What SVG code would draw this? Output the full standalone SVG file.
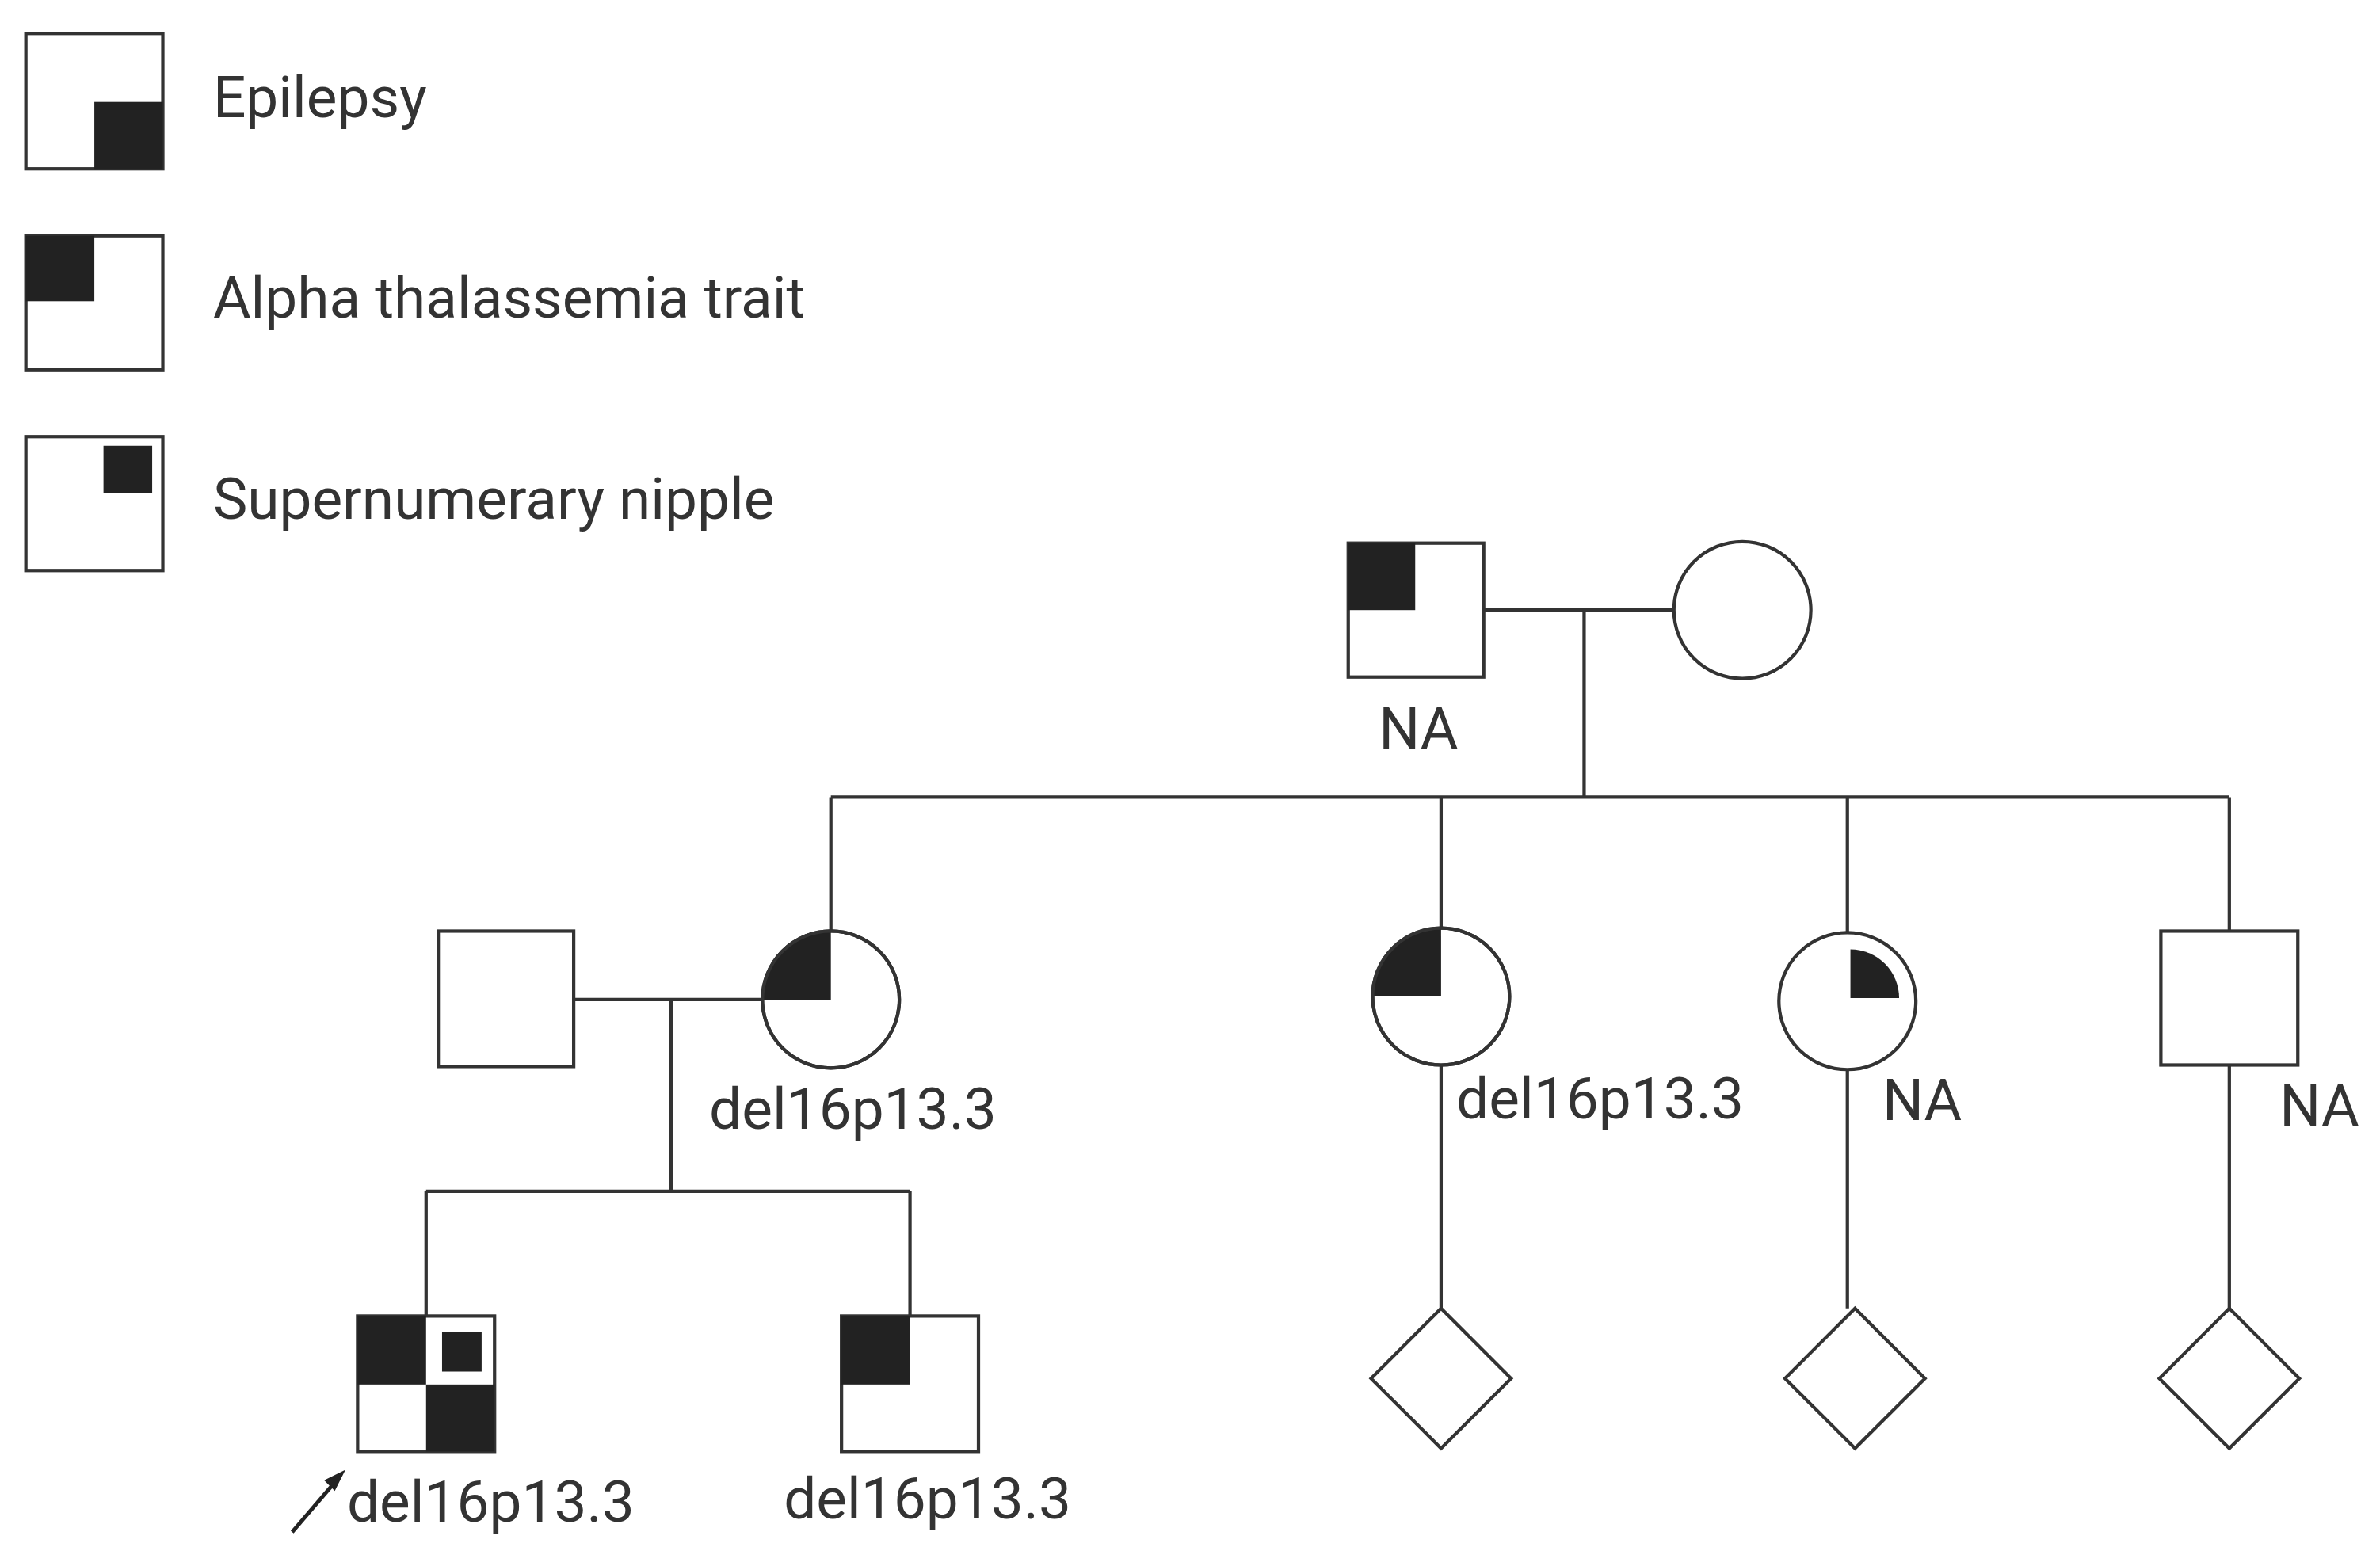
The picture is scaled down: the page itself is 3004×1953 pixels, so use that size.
<svg xmlns="http://www.w3.org/2000/svg" width="3004" height="1953" viewBox="0 0 3004 1953">
<style>
.s{fill:#fff;stroke:#333;stroke-width:2.2}
.f{fill:#222}
.l{fill:none;stroke:#333;stroke-width:2.2}
text{font-family:Roboto,"Liberation Sans",sans-serif;font-size:38px;fill:#333}
</style>
<rect width="3004" height="1953" fill="#fff"/>
<g transform="scale(1.9207)">
<g id="legend">
<rect class="s" x="17" y="22" width="90" height="89"/><rect class="f" x="62" y="67" width="45" height="44"/>
<text x="140" y="77">Epilepsy</text>
<rect class="s" x="17" y="155" width="90" height="88"/><rect class="f" x="17" y="155" width="45" height="43"/>
<text x="140" y="209">Alpha thalassemia trait</text>
<rect class="s" x="17" y="287" width="90" height="88"/><rect class="f" x="68" y="293" width="32" height="31"/>
<text x="140" y="341">Supernumerary nipple</text>
</g>
<g id="connectors">
<path class="l" d="M975 401H1100M1041 401V524M546 524H1465M546 524V612M947 524V610M1214 524V613M1465 524V612M377 657H500M441 657V783M280 783H598M280 783V865M598 783V865M947 700V860M1214 703V860M1465 700V860"/>
<path d="M192 1007L222 972" stroke="#222" stroke-width="2.5"/>
<path d="M227 966L213 973L220 980Z" fill="#222"/>
</g>
<g id="grandfather"><rect class="s" x="886" y="357" width="89" height="88"/><rect class="f" x="886" y="357" width="44" height="44"/><text x="906" y="492">NA</text></g>
<g id="grandmother"><circle class="s" cx="1145" cy="401" r="45"/></g>
<g id="father"><rect class="s" x="288" y="612" width="89" height="89"/></g>
<g id="mother"><circle class="s" cx="546" cy="657" r="45"/><path class="f" d="M546 657H501A45 45 0 0 1 546 612Z"/><circle class="l" cx="546" cy="657" r="45"/><text x="466" y="742">del16p13.3</text></g>
<g id="aunt1"><circle class="s" cx="947" cy="655" r="45"/><path class="f" d="M947 655H902A45 45 0 0 1 947 610Z"/><circle class="l" cx="947" cy="655" r="45"/><text x="957" y="735">del16p13.3</text></g>
<g id="aunt2"><circle class="s" cx="1214" cy="658" r="45"/><path class="f" d="M1216 656V624A32 32 0 0 1 1248 656Z"/><text x="1237" y="736">NA</text></g>
<g id="uncle"><rect class="s" x="1420" y="612" width="90" height="88"/><text x="1498" y="740">NA</text></g>
<g id="proband"><rect class="s" x="235" y="865" width="90" height="89"/><rect class="f" x="235" y="865" width="45" height="45"/><rect class="f" x="280" y="910" width="45" height="44"/><rect x="289" y="874" width="29" height="29" fill="#222" stroke="#fff" stroke-width="3"/><text x="228" y="1000">del16p13.3</text></g>
<g id="brother"><rect class="s" x="553" y="865" width="90" height="89"/><rect class="f" x="553" y="865" width="45" height="45"/><text x="515" y="998">del16p13.3</text></g>
<g id="d1"><path class="s" d="M947 860L993 906L947 952L901 906Z"/></g>
<g id="d2"><path class="s" d="M1219 860L1265 906L1219 952L1173 906Z"/></g>
<g id="d3"><path class="s" d="M1465 860L1511 906L1465 952L1419 906Z"/></g>
</g>
</svg>
